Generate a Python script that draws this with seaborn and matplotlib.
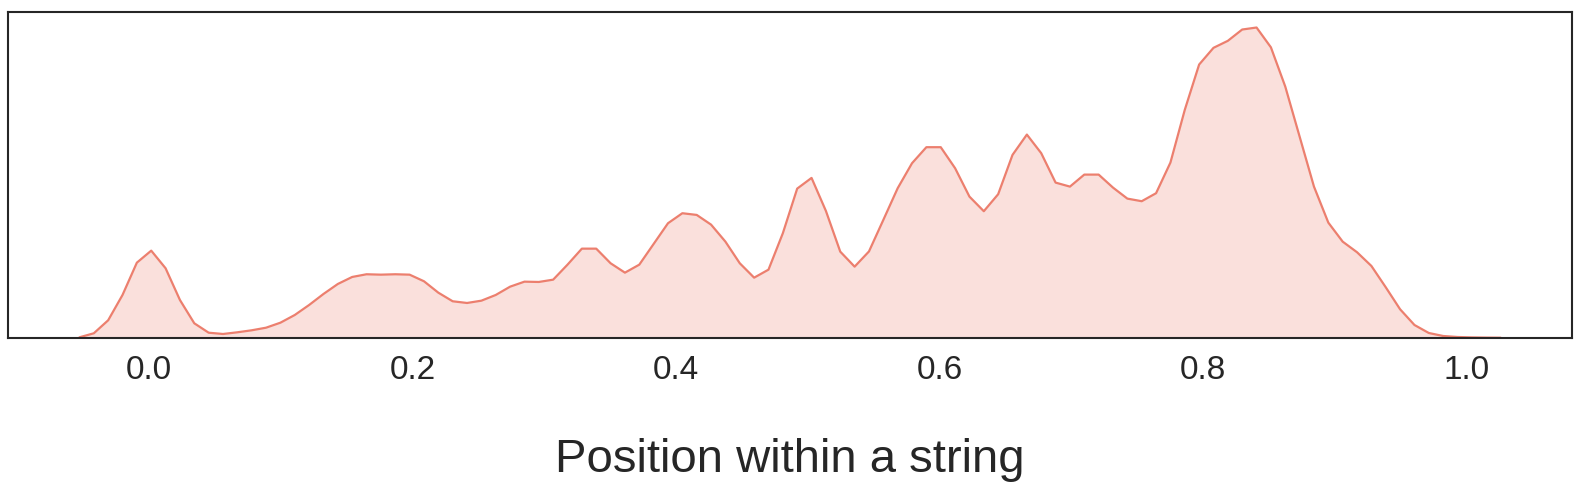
import matplotlib
matplotlib.use("Agg")
import matplotlib.pyplot as plt
import seaborn as sns
import numpy as np
import pandas as pd

# evaluation grid of the density curve
GRID_START = -0.053
GRID_END = 1.026

# density values along the grid, left to right
density = [
    0.007, 0.047, 0.177, 0.430, 0.753, 0.873, 0.697, 0.380, 0.147, 0.053,
    0.040, 0.057, 0.077, 0.103, 0.153, 0.230, 0.330, 0.440, 0.540, 0.610,
    0.637, 0.633, 0.637, 0.633, 0.567, 0.453, 0.367, 0.350, 0.373, 0.430,
    0.513, 0.563, 0.560, 0.583, 0.733, 0.893, 0.893, 0.747, 0.653, 0.733,
    0.940, 1.147, 1.247, 1.230, 1.133, 0.963, 0.747, 0.603, 0.683, 1.047,
    1.493, 1.600, 1.270, 0.863, 0.713, 0.865, 1.180, 1.497, 1.747, 1.907,
    1.907, 1.697, 1.413, 1.267, 1.437, 1.830, 2.033, 1.847, 1.553, 1.513,
    1.633, 1.633, 1.503, 1.393, 1.367, 1.447, 1.753, 2.280, 2.733, 2.900,
    2.970, 3.083, 3.103, 2.905, 2.513, 2.013, 1.513, 1.153, 0.963, 0.857,
    0.720, 0.507, 0.287, 0.130, 0.050, 0.020, 0.010, 0.006, 0.004, 0.003,
]

x_label = "Position within a string"
x_ticks = [0.0, 0.2, 0.4, 0.6, 0.8, 1.0]

LINE_COLOR = "#EC7F6E"


def main():
    sns.set_theme(style="white")
    plt.rcParams['font.family'] = ['Liberation Sans', 'DejaVu Sans']
    plt.rcParams['axes.edgecolor'] = '#262626'
    plt.rcParams['axes.linewidth'] = 1.5

    df = pd.DataFrame({
        'pos': np.linspace(GRID_START, GRID_END, len(density)),
        'density': density,
    })

    fig = plt.figure(figsize=(15.84, 5), dpi=100)
    ax = fig.add_axes([0.0053, 0.324, 0.9869, 0.652])

    poly = ax.fill_between(df['pos'], 0, df['density'], color=LINE_COLOR,
                           alpha=0.24, linewidth=0)
    poly.sticky_edges.y[:] = [0, np.inf]
    sns.lineplot(data=df, x='pos', y='density', color=LINE_COLOR,
                 linewidth=1.6, ax=ax)

    ax.set_xticks(x_ticks)
    ax.set_xticklabels([f"{t:.1f}" for t in x_ticks])
    ax.set_yticks([])
    ax.set_ylabel('')
    ax.tick_params(axis='x', length=0, pad=12, labelsize=24, colors='#262626')
    ax.set_xlabel(x_label, fontsize=34, labelpad=38, color='#262626')

    for s in ax.spines.values():
        s.set_visible(True)

    fig.savefig('out.png', dpi=100)
    plt.close(fig)


if __name__ == "__main__":
    main()
